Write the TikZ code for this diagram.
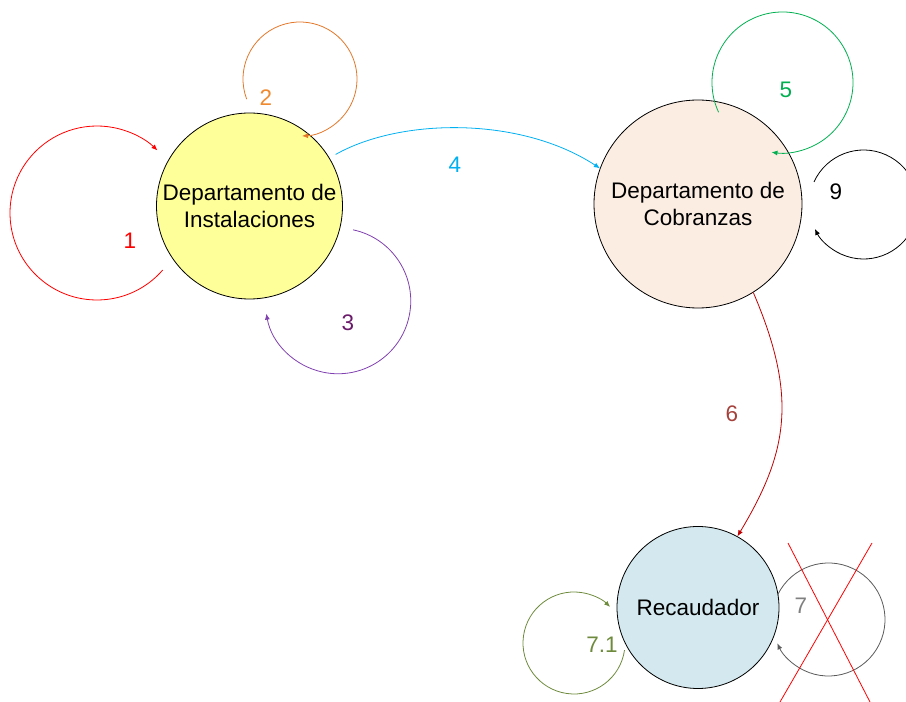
\documentclass[tikz,border=0pt]{standalone}
\usepackage{fontspec}
\setmainfont{Liberation Sans}
\usetikzlibrary{arrows.meta}
\definecolor{instfill}{HTML}{FFFF99}
\definecolor{cobfill}{HTML}{FCEDE3}
\definecolor{recfill}{HTML}{D3E9EF}
\definecolor{cRed}{HTML}{FF0000}
\definecolor{cOrange}{HTML}{E3782A}
\definecolor{cOrangeT}{HTML}{F08A30}
\definecolor{cPurple}{HTML}{8040B0}
\definecolor{cPurpleT}{HTML}{6A1B6A}
\definecolor{cCyan}{HTML}{00B0F0}
\definecolor{cGreen}{HTML}{00B050}
\definecolor{cDarkRed}{HTML}{C00000}
\definecolor{cDarkRedT}{HTML}{A5413B}
\definecolor{cOlive}{HTML}{6E8B3D}
\definecolor{cGray}{HTML}{5A5A5A}
\definecolor{cGrayT}{HTML}{808080}
\begin{document}
\begin{tikzpicture}[x=1pt,y=1pt,
  state/.style={circle,draw=black,line width=0.8pt,inner sep=0pt,align=center,
    font=\fontsize{22.5}{27}\selectfont},
  flow/.style={line width=0.8pt,-{Latex[length=6pt,width=5pt]}},
  tag/.style={font=\fontsize{22.5}{27}\selectfont,inner sep=0pt}]
\clip (0,0) rectangle (906,702);

% states
\node[state,fill=instfill,minimum size=186pt] (inst) at (249.5,496) {Departamento de\\Instalaciones};
\node[state,fill=cobfill,minimum size=208pt] (cob) at (698,498) {Departamento de\\Cobranzas};
\node[state,fill=recfill,minimum size=162pt] (rec) at (698,94.5) {Recaudador};

% centres of the self loops
\coordinate (l1) at (97,489);
\coordinate (l2) at (300,623);
\coordinate (l3) at (338,401);
\coordinate (l5) at (782.5,619.5);
\coordinate (l9) at (863.6,497.5);
\coordinate (l71) at (574,59);
\coordinate (l7) at (828.5,82.5);

% self loops
\draw[flow,cRed] ([shift={(-41:87)}]l1) arc[start angle=-41,end angle=-314,radius=87];
\draw[flow,cOrange] ([shift={(200.7:57)}]l2) arc[start angle=200.7,end angle=-88,radius=57];
\draw[flow,cPurple] ([shift={(78:72.75)}]l3) arc[start angle=78,end angle=-170,radius=72.75];
\draw[flow,cGreen] ([shift={(205:70.5)}]l5) arc[start angle=205,end angle=-99,radius=70.5];
\draw[flow,black] ([shift={(155.6:54.5)}]l9) arc[start angle=155.6,end angle=-153.3,radius=54.5];
\draw[flow,cOlive] ([shift={(-8:51)}]l71) arc[start angle=-8,end angle=-315,radius=51];
\draw[flow,cGray] ([shift={(154:56.5)}]l7) arc[start angle=154,end angle=-155,radius=56.5];

% transitions between states
\draw[flow,cCyan,shorten <=7pt] (inst.31) .. controls (400,584) and (520,586) .. (cob.160);
\draw[flow,cDarkRed] (cob.-58.3) .. controls (798,305) and (788,250) .. (rec.61.7);

% crossed-out loop
\coordinate (x1) at (788,159);
\coordinate (x2) at (870,0);
\coordinate (x3) at (872,159);
\coordinate (x4) at (780,0);
\draw[cRed,line width=0.8pt] (x1) -- (x2);
\draw[cRed,line width=0.8pt] (x3) -- (x4);

% labels
\node[tag,text=cRed] (t1) at (130,461) {1};
\node[tag,text=cOrangeT] (t2) at (266,604) {2};
\node[tag,text=cPurpleT] (t3) at (348,379) {3};
\node[tag,text=cCyan] (t4) at (455,537) {4};
\node[tag,text=cGreen] (t5) at (786,612) {5};
\node[tag,text=black] (t9) at (836,510) {9};
\node[tag,text=cDarkRedT] (t6) at (732,288) {6};
\node[tag,text=cOlive] (t71) at (602,57) {7.1};
\node[tag,text=cGrayT] (t7) at (801,96) {7};
\end{tikzpicture}
\end{document}
